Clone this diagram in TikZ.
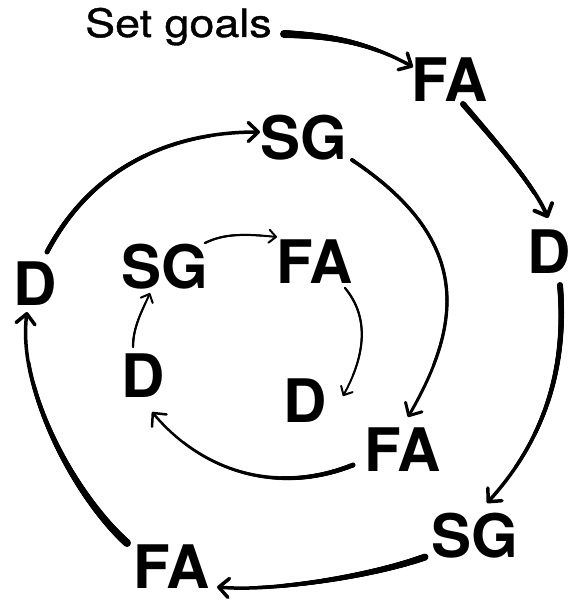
\documentclass[tikz,border=0pt]{standalone}
\usepackage{fontspec}
\setmainfont{TeX Gyre Heros}
\newfontfamily\goalfont[FakeStretch=1.15,FakeBold=1]{TeX Gyre Heros}
\usetikzlibrary{arrows.meta,decorations.markings}

\tikzset{
  % brush-like stroke: thick at the start, thinning towards the tip
  taper/.style 2 args={
    line width=#2pt,
    postaction={decorate,decoration={markings,
      mark=between positions 0 and 0.8 step 0.8pt with {
        \pgfmathsetmacro\tprad{(#1)/2-((#1)-(#2))/2*\pgfkeysvalueof{/pgf/decoration/mark info/sequence number}*0.8/(0.8*\pgfdecoratedpathlength)}
        \fill (0,0) circle[radius=\tprad pt];
      }}}},
  bigtip/.style={-{Straight Barb[length=10pt,width=19pt,round]}},
  smalltip/.style={-{Straight Barb[length=7pt,width=13pt,round]}},
  stage/.style={inner sep=0pt,anchor=base west,
    font=\bfseries\fontsize{60}{60}\selectfont},
  goaltext/.style={inner sep=0pt,anchor=base west,
    font=\goalfont\fontsize{39}{39}\selectfont},
}

\begin{document}
\begin{tikzpicture}[x=1pt,y=-1pt]
  \useasboundingbox (0,0) rectangle (571,601);
  \fill[white] (0,0) rectangle (571,601);

  % labels
  \node[goaltext] (goal) at (85,37) {Set goals};
  \node[stage] (fa1) at (411,102) {FA};
  \node[stage] (d1)  at (527,273) {D};
  \node[stage] (sg1) at (431,557) {SG};
  \node[stage] (fa2) at (133,588) {FA};
  \node[stage] (d2)  at (13,305)  {D};
  \node[stage] (sg2) at (260,160) {SG};
  \node[stage] (fa3) at (364,471) {FA};
  \node[stage] (d3)  at (121,397) {D};
  \node[stage] (sg3) at (121,288) {SG};
  \node[stage] (fa4) at (276,283) {FA};
  \node[stage] (d4)  at (283,422) {D};

  % outer loop
  \draw[bigtip,taper={8}{3.5}] ([shift={(199,-3)}]goal.base west)
    .. controls +(55,2) and +(-40,-22) .. ([shift={(2,-35)}]fa1.base west);
  \draw[bigtip,taper={6}{4}] ([shift={(52,2)}]fa1.base west)
    .. controls +(30,35) and +(-15,-35) .. ([shift={(21,-55)}]d1.base west);
  \draw[bigtip,taper={6}{3.5}] ([shift={(33,12)}]d1.base west)
    .. controls +(8,95) and +(50,-55) .. ([shift={(56,-54)}]sg1.base west);
  \draw[bigtip,taper={7}{3.5}] ([shift={(-6,0)}]sg1.base west)
    .. controls +(-50,18) and +(60,5) .. ([shift={(84,-1)}]fa2.base west);
  \draw[bigtip,taper={8}{3.5}] ([shift={(-6,-45)}]fa2.base west)
    .. controls +(-50,-45) and +(-10,80) .. ([shift={(14,7)}]d2.base west);
  \draw[bigtip,taper={5}{3.5}] ([shift={(34,-53)}]d2.base west)
    .. controls +(45,-85) and +(-90,0) .. ([shift={(0,-28)}]sg2.base west);

  % middle loop
  \draw[bigtip,taper={4}{3}] ([shift={(92,0)}]sg2.base west)
    .. controls +(120,80) and +(55,-95) .. ([shift={(44,-54)}]fa3.base west);
  \draw[bigtip,taper={5}{2.5}] ([shift={(-11,-6)}]fa3.base west)
    .. controls +(-70,28) and +(55,65) .. ([shift={(31,15)}]d3.base west);

  % inner loop
  \draw[smalltip,taper={2.5}{2}] ([shift={(12,-50)}]d3.base west)
    .. controls +(0,-20) and +(-8,18) .. ([shift={(29,5)}]sg3.base west);
  \draw[smalltip,taper={2.5}{2}] ([shift={(84,-45)}]sg3.base west)
    .. controls +(20,-10) and +(-30,-3) .. ([shift={(1,-46)}]fa4.base west);
  \draw[smalltip,taper={2.5}{2}] ([shift={(69,5)}]fa4.base west)
    .. controls +(25,30) and +(22,-40) .. ([shift={(60,-26)}]d4.base west);
\end{tikzpicture}
\end{document}
